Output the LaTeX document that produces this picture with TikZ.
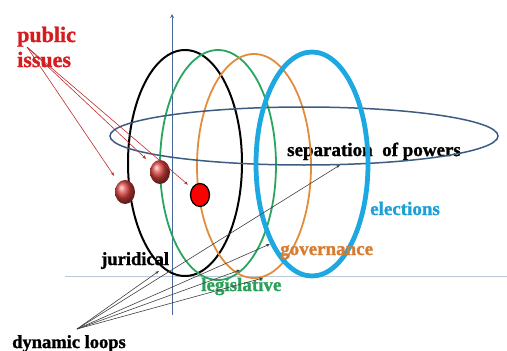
\documentclass[tikz,border=0pt]{standalone}
\usepackage{fontspec}
\setmainfont{Liberation Serif}[BoldFeatures={FakeBold=1.3}]
\usetikzlibrary{arrows.meta, shapes.geometric}
\definecolor{axisblue}{RGB}{70,105,150}
\definecolor{axisgrey}{RGB}{185,200,212}
\definecolor{planeblue}{RGB}{60,92,130}
\definecolor{loopgreen}{RGB}{40,165,95}
\definecolor{looporange}{RGB}{226,140,60}
\definecolor{loopcyan}{RGB}{30,168,225}
\definecolor{issuered}{RGB}{215,28,32}
\definecolor{arrowred}{RGB}{190,45,45}
\definecolor{ballred}{RGB}{215,65,60}
\definecolor{textcyan}{RGB}{30,160,215}
\definecolor{textorange}{RGB}{215,125,50}
\definecolor{textgreen}{RGB}{40,160,90}

\begin{document}
\begin{tikzpicture}[>=stealth, x=1pt, y=-1pt]
  \useasboundingbox (0,0) rectangle (507,351);
  % axes
  \draw[axisgrey, line width=1pt] (65,276) -- (507,276);
  \draw[->, axisblue, line width=0.8pt] (172,315) -- (172,14);
  % labels (drawn under the loops)
  \node[anchor=base west, inner sep=0, font=\fontsize{19}{22}\selectfont\bfseries] (sep) at (287,156) {separation\ \ of powers};
  \node[anchor=base west, inner sep=0, textcyan, font=\fontsize{19}{22}\selectfont\bfseries] (elec) at (370,215) {elections};
  % loops
  \draw[black, line width=2pt] (185,163) ellipse [x radius=57pt, y radius=113pt];
  \draw[loopgreen, line width=1.8pt] (218,165) ellipse [x radius=58pt, y radius=115pt];
  \draw[looporange, line width=1.8pt] (254,166) ellipse [x radius=57pt, y radius=112pt];
  % plane
  \draw[planeblue, line width=1.5pt] (304,136) ellipse [x radius=194pt, y radius=29pt];
  \draw[loopcyan, line width=4.8pt] (312,164) ellipse [x radius=56pt, y radius=112pt];
  % loop labels
  \node[anchor=base west, inner sep=0, font=\fontsize{18.5}{22}\selectfont\bfseries] (jur) at (101,265) {juridical};
  \node[anchor=base west, inner sep=0, textgreen, font=\fontsize{19}{22}\selectfont\bfseries] (leg) at (201,291) {legislative};
  \node[anchor=base west, inner sep=0, textorange, font=\fontsize{19}{22}\selectfont\bfseries] (gov) at (280,255) {governance};
  % public issues
  \node[anchor=base west, inner sep=0, issuered, font=\fontsize{22}{26}\selectfont\bfseries] (pub) at (17,42) {public};
  \node[anchor=base west, inner sep=0, issuered, font=\fontsize{22}{26}\selectfont\bfseries] (iss) at (17,67) {issues};
  \coordinate (src) at (27,47);
  % balls
  \node[ellipse, minimum width=20pt, minimum height=24pt, inner sep=0, shade, ball color=ballred] (b1) at (125,192) {};
  \node[ellipse, minimum width=20pt, minimum height=24pt, inner sep=0, shade, ball color=ballred] (b2) at (160,172) {};
  \node[ellipse, minimum width=19pt, minimum height=23pt, inner sep=0, draw=black, line width=1.3pt, fill=red] (b3) at (200,195) {};
  \draw[-{Stealth[length=4pt,width=3pt]}, arrowred, line width=0.6pt, shorten >=8pt] (src) -- (b1);
  \draw[-{Stealth[length=4pt,width=3pt]}, arrowred, line width=0.6pt, shorten >=8pt] (src) -- (b2);
  \draw[-{Stealth[length=4pt,width=3pt]}, arrowred, line width=0.6pt, shorten >=5pt] (src) -- (b3);
  % dynamic loops
  \node[anchor=base west, inner sep=0, font=\fontsize{18.5}{22}\selectfont\bfseries] (dyn) at (12,348) {dynamic loops};
  \coordinate (dl) at (77,329);
  \coordinate (tj) at (159,271);
  \coordinate (tl) at (240,270);
  \coordinate (to) at (263,278);
  \coordinate (tg) at (270,244);
  \coordinate (ts) at (340,165);
  \foreach \t in {tj,tl,to,tg,ts}
    \draw[-{Stealth[length=4pt,width=3pt]}, black!75, line width=0.6pt] (dl) -- (\t);
\end{tikzpicture}
\end{document}
